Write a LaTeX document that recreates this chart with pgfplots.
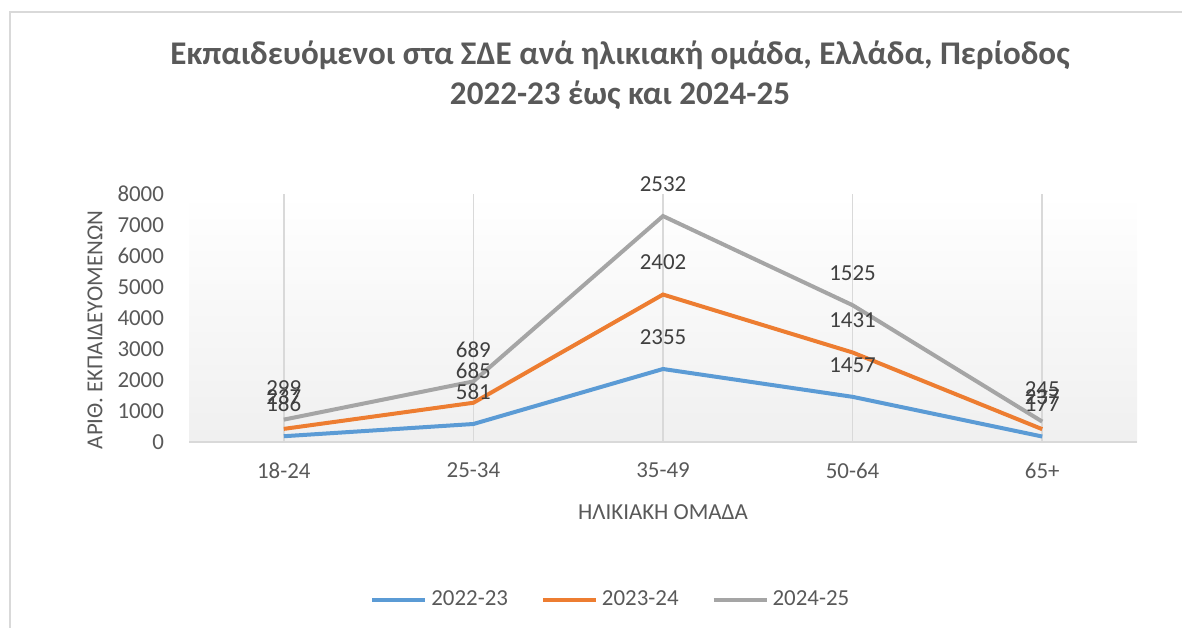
\documentclass[border=0pt]{standalone}
\usepackage{fontspec}
\setmainfont{Carlito}
\usepackage{pgfplots}
\pgfplotsset{compat=1.18}
\definecolor{cblue}{HTML}{5B9BD5}
\definecolor{corange}{HTML}{ED7D31}
\definecolor{cgray}{HTML}{A5A5A5}
\definecolor{ctext}{HTML}{595959}
\definecolor{clabel}{HTML}{404040}
\definecolor{cgrid}{HTML}{D9D9D9}
\begin{document}
\begin{tikzpicture}
\path[use as bounding box] (0,0) rectangle (591bp,-314bp);
\draw[cgrid, line width=1bp] (5bp,-314bp) -- (5bp,-6bp) -- (591bp,-6bp);
\node[font=\fontsize{16.6}{19}\selectfont\bfseries, text=ctext] at (310bp,-27.5bp) {Εκπαιδευόμενοι στα ΣΔΕ ανά ηλικιακή ομάδα, Ελλάδα, Περίοδος};
\node[font=\fontsize{16.6}{19}\selectfont\bfseries, text=ctext] at (310bp,-47.5bp) {2022-23 έως και 2024-25};
\begin{axis}[
  at={(94.5bp,-221bp)}, anchor=south west,
  width=474bp, height=124bp, scale only axis,
  xmin=-0.5, xmax=4.5, ymin=0, ymax=8000,
  xtick={0,1,2,3,4}, xticklabels={18-24,25-34,35-49,50-64,65+},
  ytick={0,1000,...,8000},
  stack plots=y,
  clip=false,
  axis x line*=bottom, axis y line*=left,
  y axis line style={draw=none},
  x axis line style={cgrid, line width=1bp, -},
  major tick length=0pt,
  xmajorgrids, grid style={cgrid, line width=0.75bp},
  axis background/.style={top color=white, bottom color=black!6},
  /pgf/number format/1000 sep={},
  /pgf/number format/assume math mode=true,
  tick label style={font=\fontsize{11.5}{14}\selectfont, text=ctext},
  xticklabel style={yshift=-7bp},
  yticklabel style={xshift=-9bp},
  xlabel={ΗΛΙΚΙΑΚΗ ΟΜΑΔΑ},
  ylabel={ΑΡΙΘ. ΕΚΠΑΙΔΕΥΟΜΕΝΩΝ},
  label style={font=\fontsize{11.5}{14}\selectfont, text=ctext},
  xlabel style={at={(axis description cs:0.5,-0.283)}, anchor=center},
  ylabel style={at={(axis description cs:-0.099,0.452)}, anchor=center},
  point meta=explicit,
  nodes near coords,
  every node near coord/.append style={font=\fontsize{11.5}{14}\selectfont, text=clabel, anchor=center, yshift=16bp},
  legend style={at={(0.446,-0.637)}, anchor=center, draw=none, fill=none,
    legend columns=-1, font=\fontsize{11.5}{14}\selectfont, text=ctext,
    /tikz/every even column/.append style={column sep=14.5bp}},
  legend image code/.code={\draw[#1] (0bp,0bp) -- (26.5bp,0bp);},
]
\addplot[cblue, line width=2bp, mark=none] coordinates {(0,186)[186] (1,581)[581] (2,2355)[2355] (3,1457)[1457] (4,177)[177]};
\addplot[corange, line width=2bp, mark=none] coordinates {(0,237)[237] (1,685)[685] (2,2402)[2402] (3,1431)[1431] (4,237)[237]};
\addplot[cgray, line width=2bp, mark=none] coordinates {(0,299)[299] (1,689)[689] (2,2532)[2532] (3,1525)[1525] (4,245)[245]};
\legend{2022-23,2023-24,2024-25}
\end{axis}
\end{tikzpicture}
\end{document}
